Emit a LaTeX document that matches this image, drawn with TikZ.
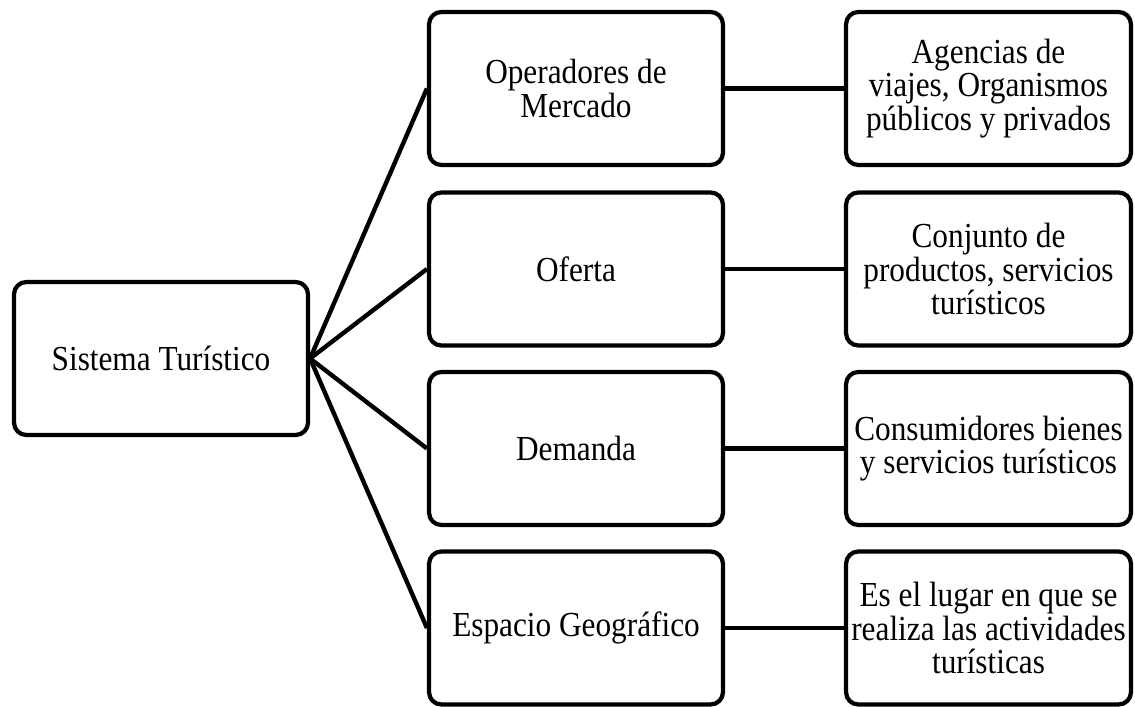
\documentclass[tikz,border=0pt]{standalone}
\usepackage{fontspec}
\setmainfont{Liberation Serif}[FakeStretch=0.89]
\usetikzlibrary{positioning}

\tikzset{
  BoxSt/.style={draw, line width=2.4pt, rounded corners=7pt, align=center,
    inner sep=1pt, minimum height=3.06cm,
    font=\fontsize{20}{18.9}\selectfont},
  MidBox/.style={BoxSt, minimum width=5.88cm},
  RgtBox/.style={BoxSt, minimum width=5.7cm},
  LinkSt/.style={line width=2.5pt}
}

\begin{document}
\begin{tikzpicture}[x=0.02cm,y=-0.02cm]
\useasboundingbox (0,0) rectangle (1135,706);

\node[MidBox] (sis) at (161,358.5) {Sistema Turístico};

\node[MidBox] (ope) at (576,88.5)  {Operadores de\\Mercado};
\node[MidBox] (ofe) at (576,269)   {Oferta};
\node[MidBox] (dem) at (576,448.5) {Demanda};
\node[MidBox] (esp) at (576,628)   {Espacio Geográfico};

\node[RgtBox] (age) at (988.5,88.5)  {Agencias de\\viajes, Organismos\\públicos y privados};
\node[RgtBox] (con) at (988.5,269)   {Conjunto de\\productos, servicios\\turísticos};
\node[RgtBox] (cns) at (988.5,448.5) {Consumidores bienes\\y servicios turísticos};
\node[RgtBox] (lug) at (988.5,628)   {Es el lugar en que se\\realiza las actividades\\turísticas};

\draw[LinkSt] (sis.east) -- (ope.west);
\draw[LinkSt] (sis.east) -- (ofe.west);
\draw[LinkSt] (sis.east) -- (dem.west);
\draw[LinkSt] (sis.east) -- (esp.west);

\draw[LinkSt] (ope) -- (age);
\draw[LinkSt] (ofe) -- (con);
\draw[LinkSt] (dem) -- (cns);
\draw[LinkSt] (esp) -- (lug);

\end{tikzpicture}
\end{document}
